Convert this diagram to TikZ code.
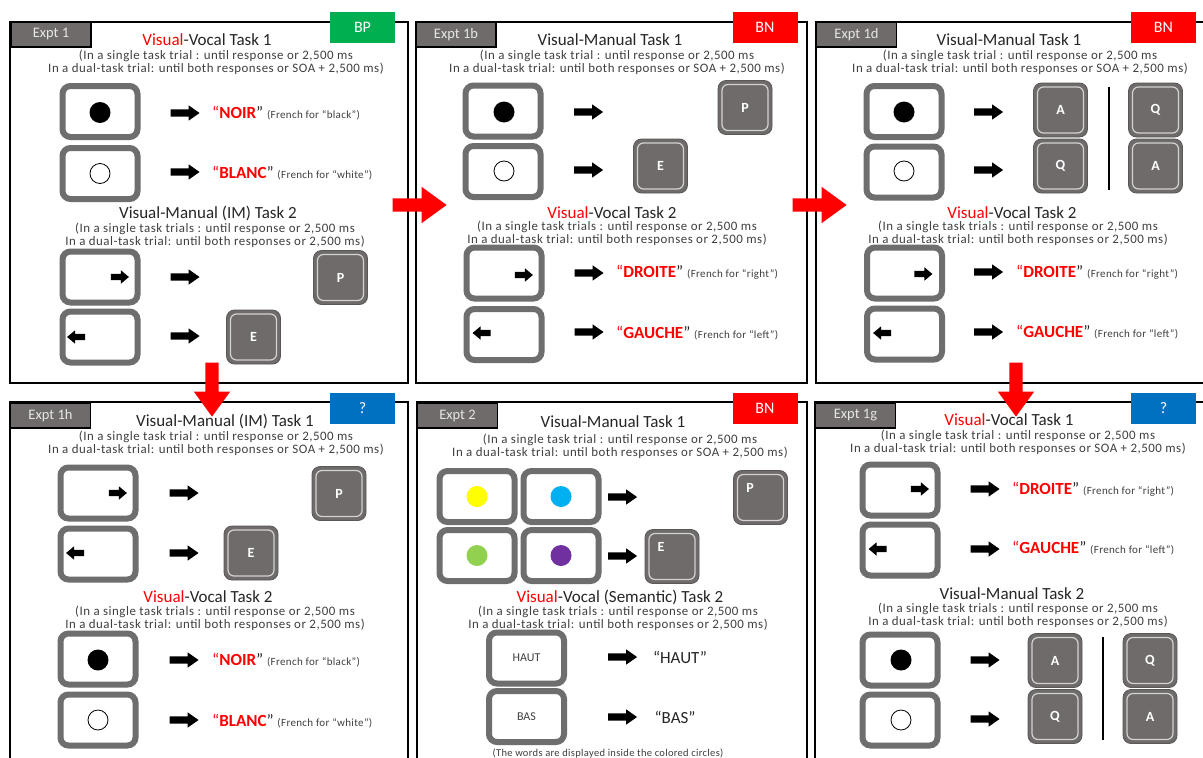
\documentclass[tikz,border=0pt]{standalone}
\usepackage{fontspec}
\setmainfont{Carlito}
\usepackage{tikz}
\usetikzlibrary{shapes.arrows}
\usepackage{xcolor}

\definecolor{vred}{HTML}{FF0000}
\definecolor{bpgreen}{HTML}{00B050}
\definecolor{qblue}{HTML}{0070C0}
\definecolor{stimgray}{HTML}{6E6E6E}
\definecolor{keygray}{HTML}{6F6B6A}
\definecolor{keyedge}{HTML}{5A5756}
\definecolor{keyline}{HTML}{D4D2D2}
\definecolor{tabtext}{HTML}{E6E6E6}
\definecolor{titlegray}{HTML}{262626}
\definecolor{notegray}{HTML}{3F3F3F}
\definecolor{cueyellow}{HTML}{FFFF00}
\definecolor{cuecyan}{HTML}{00B0F0}
\definecolor{cuegreen}{HTML}{92D050}
\definecolor{cuepurple}{HTML}{7030A0}

\tikzset{
  panelframe/.style={draw=black, line width=2pt},
  exptab/.style={draw=black, line width=1.5pt, fill=keygray, text=tabtext,
    minimum width=80pt, minimum height=25pt, inner sep=0pt,
    font=\fontsize{14.5}{14.5}\selectfont},
  ratebadge/.style={fill=#1, text=white, minimum width=65pt, minimum height=31pt,
    inner sep=0pt, font=\fontsize{16}{16}\selectfont},
  tasktitle/.style={anchor=base, inner sep=0pt, text=titlegray,
    font=\fontsize{17}{17}\selectfont},
  tasknote/.style={align=center, inner sep=0pt, text=notegray,
    font=\fontsize{12.9}{11.5}\selectfont\addfontfeature{LetterSpace=4}},
  stimbox/.style={draw=stimgray, line width=6pt, rounded corners=8pt, fill=white,
    minimum width=75pt, minimum height=51pt, inner sep=0pt, text=notegray,
    font=\fontsize{12}{12}\selectfont},
  keybox/.style={fill=keygray, draw=keyedge, line width=0.8pt, rounded corners=8pt,
    minimum size=54pt, inner sep=0pt, text=white,
    font=\bfseries\fontsize{14}{14}\selectfont,
    path picture={\draw[keyline, line width=1.2pt, rounded corners=6pt]
      ([shift={(4pt,-4pt)}]path picture bounding box.north west) rectangle
      ([shift={(-4pt,4pt)}]path picture bounding box.south east);}},
  keyletter/.style={inner sep=0pt, text=white, font=\bfseries\fontsize{14}{14}\selectfont},
  blackdot/.style={circle, fill=black, minimum size=21pt, inner sep=0pt},
  whitedot/.style={circle, draw=black, line width=0.8pt, fill=white,
    minimum size=20pt, inner sep=0pt},
  colordot/.style={circle, fill=#1, minimum size=21pt, inner sep=0pt},
  goarrow/.style={single arrow, fill=black, minimum height=29pt, inner xsep=0pt,
    inner ysep=3.4pt, single arrow head extend=4pt, single arrow tip angle=70},
  cuearrow/.style={single arrow, fill=black, minimum height=18pt, inner xsep=0pt,
    inner ysep=3pt, single arrow head extend=3.5pt, single arrow tip angle=80},
  redarrow/.style={single arrow, fill=vred, minimum height=54pt, inner xsep=0pt,
    inner ysep=6.5pt, single arrow head extend=11.5pt, single arrow tip angle=72},
  sayit/.style={anchor=west, inner sep=0pt, text=titlegray,
    font=\fontsize{17}{17}\selectfont},
}

\newcommand{\singlenote}{(In a single task trial : until response or 2,500 ms\\In a dual-task trial: until both responses or SOA + 2,500 ms)}
\newcommand{\dualnote}{(In a single task trials : until response or 2,500 ms\\In a dual-task trial: until both responses or 2,500 ms)}
\newcommand{\vis}{{\color{vred}Visual}}
\newcommand{\french}[2]{{\color{vred}“\textbf{#1}}” {\fontsize{11}{11}\selectfont\addfontfeature{LetterSpace=3}\color{notegray}(French for “#2”)}}

\begin{document}
\begin{tikzpicture}[x=1pt,y=-1pt]
\useasboundingbox (0,0) rectangle (1203,758);
\clip (0,0) rectangle (1203,758);
\fill[white] (0,0) rectangle (1203,758);

% panel frames
\draw[panelframe] (10,22) rectangle (408,383);
\draw[panelframe] (416,22) rectangle (807,383);
\draw[panelframe] (816,22) rectangle (1215,383);
\draw[panelframe] (10,402) rectangle (408,780);
\draw[panelframe] (417,402) rectangle (807,780);
\draw[panelframe] (815,402) rectangle (1215,780);

% Expt 1
\node[exptab] (tab1) at (51,34.5) {Expt 1};
\node[ratebadge=bpgreen] (rb1) at (362.5,27.5) {BP};
\node[tasktitle] (t11) at (207,45) {\vis-Vocal Task 1};
\node[tasknote] (n11) at (216,62) {\singlenote};
\node[stimbox] (s11) at (100,111.5) {};
\node[stimbox] (s12) at (100,173.5) {};
\node[blackdot] (d11) at (100,112.5) {};
\node[whitedot] (d12) at (100,173.5) {};
\node[goarrow] (a11) at (182.5,113) {};
\node[goarrow] (a12) at (182.5,172) {};
\node[sayit] (r11) at (212,113) {\french{NOIR}{black}};
\node[sayit] (r12) at (212,173) {\french{BLANC}{white}};
\node[tasktitle] (t12) at (208,218) {Visual-Manual (IM) Task 2};
\node[tasknote] (n12) at (215,235) {\dualnote};
\node[stimbox] (s13) at (100,277) {};
\node[stimbox] (s14) at (100,337) {};
\node[cuearrow] (c13) at (118,277) {};
\node[cuearrow, rotate=180] (c14) at (78,337) {};
\node[goarrow] (a13) at (182.5,277) {};
\node[goarrow] (a14) at (182.5,336) {};
\node[keybox] (k13) at (340.5,277.5) {P};
\node[keybox] (k14) at (253.5,337) {E};

% Expt 1b
\node[exptab] (tab2) at (456,34.5) {Expt 1b};
\node[ratebadge=vred] (rb2) at (765,27.5) {BN};
\node[tasktitle] (t21) at (610,45) {Visual-Manual Task 1};
\node[tasknote] (n21) at (617,62) {\singlenote};
\node[stimbox] (s21) at (503,111) {};
\node[stimbox] (s22) at (503,171.5) {};
\node[blackdot] (d21) at (504,112) {};
\node[whitedot] (d22) at (504,171) {};
\node[goarrow] (a21) at (586,112) {};
\node[goarrow] (a22) at (586,170) {};
\node[keybox] (k21) at (745,107.5) {P};
\node[keybox] (k22) at (660.5,166) {E};
\node[tasktitle] (t22) at (612,218.5) {\vis-Vocal Task 2};
\node[tasknote] (n22) at (617,233.5) {\dualnote};
\node[stimbox] (s23) at (504,273) {};
\node[stimbox] (s24) at (504,334.5) {};
\node[cuearrow] (c23) at (522,275) {};
\node[cuearrow, rotate=180] (c24) at (483.5,333) {};
\node[goarrow] (a23) at (586.5,273) {};
\node[goarrow] (a24) at (586.5,332) {};
\node[sayit] (r23) at (616,272) {\french{DROITE}{right}};
\node[sayit] (r24) at (616,333) {\french{GAUCHE}{left}};

% Expt 1d
\node[exptab] (tab3) at (856.5,34.5) {Expt 1d};
\node[ratebadge=vred] (rb3) at (1163.5,27.5) {BN};
\node[tasktitle] (t31) at (1009,45) {Visual-Manual Task 1};
\node[tasknote] (n31) at (1020,62) {\singlenote};
\node[stimbox] (s31) at (904,111.5) {};
\node[stimbox] (s32) at (904,172) {};
\node[blackdot] (d31) at (904,112) {};
\node[whitedot] (d32) at (904,171) {};
\node[goarrow] (a31) at (986,112) {};
\node[goarrow] (a32) at (986,170) {};
\node[keybox] (k31) at (1060.5,110) {A};
\node[keybox] (k32) at (1060.5,166) {Q};
\node[keybox] (k33) at (1155.5,110) {Q};
\node[keybox] (k34) at (1155.5,166) {A};
\draw[line width=2pt] (1109,87) -- (1109,190);
\node[tasktitle] (t32) at (1012,218.5) {\vis-Vocal Task 2};
\node[tasknote] (n32) at (1018,233.5) {\dualnote};
\node[stimbox] (s33) at (904.5,273) {};
\node[stimbox] (s34) at (904.5,334) {};
\node[cuearrow] (c33) at (921.5,274) {};
\node[cuearrow, rotate=180] (c34) at (884,333) {};
\node[goarrow] (a33) at (986,272) {};
\node[goarrow] (a34) at (986,332) {};
\node[sayit] (r33) at (1016,272) {\french{DROITE}{right}};
\node[sayit] (r34) at (1016,332) {\french{GAUCHE}{left}};

% Expt 1h
\node[exptab] (tab4) at (50.5,415.5) {Expt 1h};
\node[ratebadge=qblue] (rb4) at (362.5,408.5) {?};
\node[tasktitle] (t41) at (225,426) {Visual-Manual (IM) Task 1};
\node[tasknote] (n41) at (216,443) {\singlenote};
\node[stimbox] (s41) at (98,493) {};
\node[stimbox] (s42) at (98,554) {};
\node[cuearrow] (c41) at (116,493) {};
\node[cuearrow, rotate=180] (c42) at (77,553) {};
\node[goarrow] (a41) at (181.5,493) {};
\node[goarrow] (a42) at (181.5,553) {};
\node[keybox] (k41) at (339,493.5) {P};
\node[keybox] (k42) at (251,553) {E};
\node[tasktitle] (t42) at (208,602) {\vis-Vocal Task 2};
\node[tasknote] (n42) at (215,618) {\dualnote};
\node[stimbox] (s43) at (98,659) {};
\node[stimbox] (s44) at (98,720) {};
\node[blackdot] (d43) at (98,660) {};
\node[whitedot] (d44) at (98,720) {};
\node[goarrow] (a43) at (181.5,660) {};
\node[goarrow] (a44) at (181.5,720) {};
\node[sayit] (r43) at (212,660) {\french{NOIR}{black}};
\node[sayit] (r44) at (212,721) {\french{BLANC}{white}};

% Expt 2
\node[exptab] (tab5) at (457.5,415.5) {Expt 2};
\node[ratebadge=vred] (rb5) at (765,408.5) {BN};
\node[tasktitle] (t51) at (613,427) {Visual-Manual Task 1};
\node[tasknote] (n51) at (620,446) {\singlenote};
\node[stimbox] (s51) at (477,496.5) {};
\node[stimbox] (s52) at (561,496.5) {};
\node[stimbox] (s53) at (477,555.5) {};
\node[stimbox] (s54) at (561,555.5) {};
\node[colordot=cueyellow] (d51) at (477,496.5) {};
\node[colordot=cuecyan] (d52) at (561,496.5) {};
\node[colordot=cuegreen] (d53) at (477,555.5) {};
\node[colordot=cuepurple] (d54) at (561,555.5) {};
\node[goarrow] (a51) at (620,497) {};
\node[goarrow] (a52) at (620,556) {};
\node[keybox] (k51) at (760.5,497.5) {};
\node[keybox] (k52) at (672,556.5) {};
\node[keyletter] (l51) at (750,488) {P};
\node[keyletter] (l52) at (661,547) {E};
\node[tasktitle] (t52) at (620,602) {\vis-Vocal (Semantic) Task 2};
\node[tasknote] (n52) at (618,618) {\dualnote};
\node[stimbox] (s55) at (526.5,658) {HAUT};
\node[stimbox] (s56) at (526.5,716.5) {BAS};
\node[goarrow] (a55) at (620,657) {};
\node[goarrow] (a56) at (620,717) {};
\node[sayit, anchor=center] (r55) at (680,657) {“HAUT”};
\node[sayit, anchor=center] (r56) at (675,717) {“BAS”};
\node[inner sep=0pt, text=notegray, font=\fontsize{10.5}{10.5}\selectfont\addfontfeature{LetterSpace=3}] (cap5) at (608,753)
  {(The words are displayed inside the colored circles)};

% Expt 1g
\node[exptab] (tab6) at (855.5,415.5) {Expt 1g};
\node[ratebadge=qblue] (rb6) at (1163.5,408.5) {?};
\node[tasktitle] (t61) at (1009,425) {\vis-Vocal Task 1};
\node[tasknote] (n61) at (1018,442) {\singlenote};
\node[stimbox] (s61) at (900,490) {};
\node[stimbox] (s62) at (900,550) {};
\node[cuearrow] (c61) at (918,489) {};
\node[cuearrow, rotate=180] (c62) at (879.5,549) {};
\node[goarrow] (a61) at (982.5,489) {};
\node[goarrow] (a62) at (982.5,549) {};
\node[sayit] (r61) at (1012,489) {\french{DROITE}{right}};
\node[sayit] (r62) at (1012,548) {\french{GAUCHE}{left}};
\node[tasktitle] (t62) at (1012,599) {Visual-Manual Task 2};
\node[tasknote] (n62) at (1018,615) {\dualnote};
\node[stimbox] (s63) at (900,660) {};
\node[stimbox] (s64) at (900,720) {};
\node[blackdot] (d63) at (901,660) {};
\node[whitedot] (d64) at (901,720) {};
\node[goarrow] (a63) at (982.5,660) {};
\node[goarrow] (a64) at (982.5,719) {};
\node[keybox] (k61) at (1055,660.5) {A};
\node[keybox] (k62) at (1055,716.5) {Q};
\node[keybox] (k63) at (1150,660.5) {Q};
\node[keybox] (k64) at (1150,716.5) {A};
\draw[line width=2pt] (1103,637) -- (1103,740);

% red arrows between experiments
\node[redarrow] (ra12) at (415,205) {};
\node[redarrow] (ra23) at (815,205) {};
\node[redarrow, rotate=-90] (ra14) at (212,385) {};
\node[redarrow, rotate=-90] (ra36) at (1016,385) {};

\end{tikzpicture}
\end{document}
